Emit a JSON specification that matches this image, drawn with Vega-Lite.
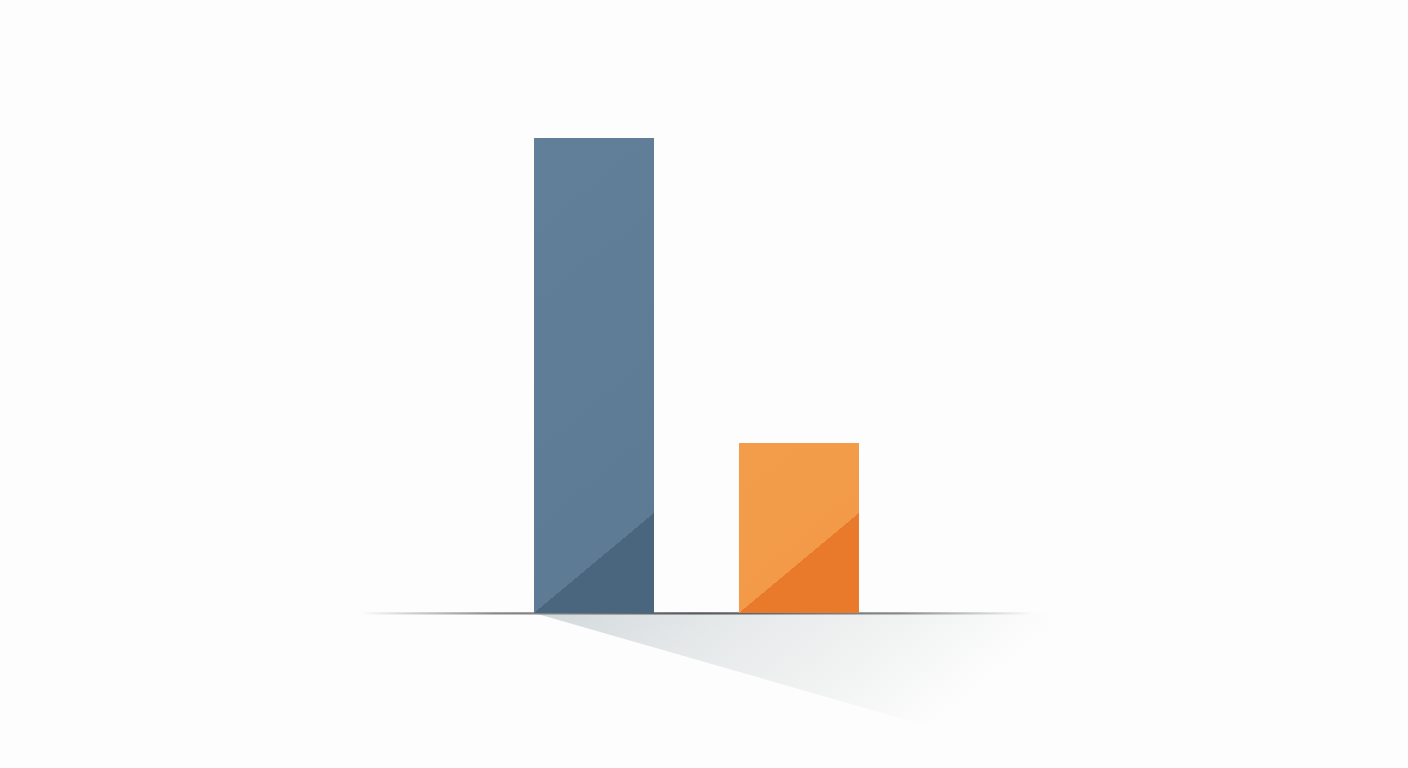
{
  "$schema": "https://vega.github.io/schema/vega-lite/v6.json",
  "width": 1408,
  "height": 768,
  "padding": 0,
  "autosize": {"type": "none"},
  "background": "#fdfdfd",
  "config": {
    "view": {"stroke": null},
    "axis": {"grid": false}
  },
  "datasets": {
    "bars": [
      {"name": "A", "start": 0, "end": 1, "value": 100},
      {"name": "B", "start": 1.708, "end": 2.708, "value": 35.8}
    ],
    "shadow": [
      {"x": 0, "y": 0},
      {"x": 4.3, "y": -31.2}
    ],
    "base": [
      {"from": -1.45, "to": 4.17, "lo": -0.3, "hi": 0.15}
    ]
  },
  "layer": [
    {
      "data": {"name": "shadow"},
      "mark": {
        "type": "area",
        "color": {
          "gradient": "linear",
          "x1": 0, "y1": 0, "x2": 1, "y2": 0.35,
          "stops": [
            {"offset": 0, "color": "#d2d8db"},
            {"offset": 0.35, "color": "#e6e9ea"},
            {"offset": 0.7, "color": "#f3f4f4"},
            {"offset": 0.92, "color": "#fdfdfd"},
            {"offset": 1, "color": "#fdfdfd"}
          ]
        }
      },
      "encoding": {
        "x": {"field": "x", "type": "quantitative", "axis": null,
              "scale": {"domain": [-4.45, 7.283], "nice": false, "zero": false}},
        "y": {"field": "y", "type": "quantitative", "axis": null,
              "scale": {"domain": [-32.63, 129.05], "nice": false, "zero": false}},
        "y2": {"datum": 0}
      }
    },
    {
      "data": {"name": "base"},
      "mark": {
        "type": "rect",
        "color": {
          "gradient": "linear",
          "x1": 0, "y1": 0, "x2": 1, "y2": 0,
          "stops": [
            {"offset": 0, "color": "#fdfdfd"},
            {"offset": 0.2, "color": "#8a8a8a"},
            {"offset": 0.5, "color": "#555a5e"},
            {"offset": 0.8, "color": "#8a8a8a"},
            {"offset": 1, "color": "#fdfdfd"}
          ]
        }
      },
      "encoding": {
        "x": {"field": "from", "type": "quantitative", "axis": null,
              "scale": {"domain": [-4.45, 7.283], "nice": false, "zero": false}},
        "x2": {"field": "to"},
        "y": {"field": "lo", "type": "quantitative", "axis": null,
              "scale": {"domain": [-32.63, 129.05], "nice": false, "zero": false}},
        "y2": {"field": "hi"}
      }
    },
    {
      "data": {"name": "bars"},
      "transform": [{"filter": "datum.name == 'A'"}],
      "mark": {
        "type": "rect",
        "color": {
          "gradient": "linear",
          "x1": 0, "y1": 0, "x2": 0.2105, "y2": 1,
          "stops": [
            {"offset": 0, "color": "#617f99"},
            {"offset": 0.9576, "color": "#5d7b95"},
            {"offset": 0.9576, "color": "#4a667f"},
            {"offset": 1, "color": "#4a667f"}
          ]
        }
      },
      "encoding": {
        "x": {"field": "start", "type": "quantitative", "axis": null,
              "scale": {"domain": [-4.45, 7.283], "nice": false, "zero": false}},
        "x2": {"field": "end"},
        "y": {"field": "value", "type": "quantitative", "axis": null,
              "scale": {"domain": [-32.63, 129.05], "nice": false, "zero": false}},
        "y2": {"datum": 0}
      }
    },
    {
      "data": {"name": "bars"},
      "transform": [{"filter": "datum.name == 'B'"}],
      "mark": {
        "type": "rect",
        "color": {
          "gradient": "linear",
          "x1": 0, "y1": 0, "x2": 0.588, "y2": 1,
          "stops": [
            {"offset": 0, "color": "#f39d4b"},
            {"offset": 0.743, "color": "#f29a47"},
            {"offset": 0.743, "color": "#e97a2c"},
            {"offset": 1, "color": "#e97a2c"}
          ]
        }
      },
      "encoding": {
        "x": {"field": "start", "type": "quantitative", "axis": null,
              "scale": {"domain": [-4.45, 7.283], "nice": false, "zero": false}},
        "x2": {"field": "end"},
        "y": {"field": "value", "type": "quantitative", "axis": null,
              "scale": {"domain": [-32.63, 129.05], "nice": false, "zero": false}},
        "y2": {"datum": 0}
      }
    }
  ]
}
